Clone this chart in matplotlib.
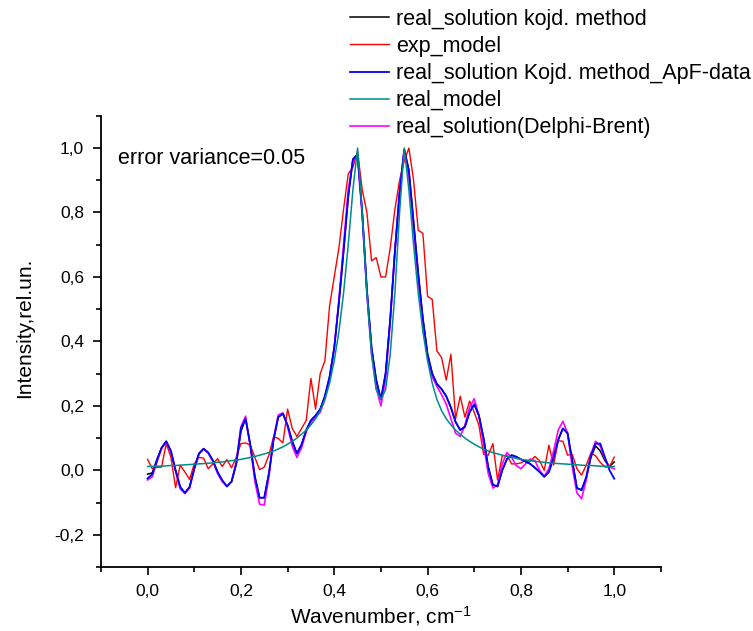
import matplotlib
matplotlib.use("Agg")
import matplotlib.pyplot as plt
from matplotlib.ticker import MultipleLocator, FuncFormatter

plt.rcParams['font.family'] = ['Liberation Sans', 'DejaVu Sans']
plt.rcParams['mathtext.default'] = 'regular'

# wavenumber grid, cm-1
wavenumber = [0.00, 0.01, 0.02, 0.03, 0.04, 0.05, 0.06, 0.07, 0.08, 0.09,
              0.10, 0.11, 0.12, 0.13, 0.14, 0.15, 0.16, 0.17, 0.18, 0.19,
              0.20, 0.21, 0.22, 0.23, 0.24, 0.25, 0.26, 0.27, 0.28, 0.29,
              0.30, 0.31, 0.32, 0.33, 0.34, 0.35, 0.36, 0.37, 0.38, 0.39,
              0.40, 0.41, 0.42, 0.43, 0.44, 0.45, 0.46, 0.47, 0.48, 0.49,
              0.50, 0.51, 0.52, 0.53, 0.54, 0.55, 0.56, 0.57, 0.58, 0.59,
              0.60, 0.61, 0.62, 0.63, 0.64, 0.65, 0.66, 0.67, 0.68, 0.69,
              0.70, 0.71, 0.72, 0.73, 0.74, 0.75, 0.76, 0.77, 0.78, 0.79,
              0.80, 0.81, 0.82, 0.83, 0.84, 0.85, 0.86, 0.87, 0.88, 0.89,
              0.90, 0.91, 0.92, 0.93, 0.94, 0.95, 0.96, 0.97, 0.98, 0.99, 1.00]

# real_solution kojd. method (black)
sol_kojd = [-0.012, -0.008, 0.033, 0.070, 0.090, 0.060, 0.000, -0.052, -0.070, -0.052,
            0.005, 0.052, 0.067, 0.055, 0.030, -0.005, -0.031, -0.050, -0.035, 0.020,
            0.120, 0.160, 0.080, -0.020, -0.085, -0.085, -0.010, 0.095, 0.165, 0.176,
            0.140, 0.090, 0.052, 0.080, 0.125, 0.155, 0.170, 0.190, 0.230, 0.290,
            0.380, 0.520, 0.680, 0.850, 0.965, 0.980, 0.800, 0.560, 0.380, 0.280,
            0.220, 0.300, 0.470, 0.680, 0.860, 0.995, 0.930, 0.770, 0.610, 0.470,
            0.360, 0.300, 0.268, 0.252, 0.230, 0.195, 0.150, 0.125, 0.135, 0.180,
            0.205, 0.170, 0.100, 0.010, -0.045, -0.050, 0.000, 0.035, 0.047, 0.042,
            0.034, 0.027, 0.020, 0.008, -0.005, -0.020, -0.005, 0.040, 0.095, 0.130,
            0.115, 0.030, -0.055, -0.060, -0.025, 0.040, 0.076, 0.060, 0.030, 0.012, 0.026]

# exp_model (red)
exp_model = [0.034, 0.005, 0.009, 0.010, 0.083, 0.041, -0.054, 0.016, -0.005, -0.028,
             0.020, 0.040, 0.038, 0.005, 0.020, 0.036, 0.012, 0.033, 0.008, 0.040,
             0.083, 0.085, 0.078, 0.040, 0.002, 0.010, 0.047, 0.104, 0.099, 0.085,
             0.190, 0.130, 0.105, 0.130, 0.155, 0.285, 0.190, 0.300, 0.340, 0.510,
             0.600, 0.690, 0.810, 0.920, 0.940, 0.990, 0.870, 0.800, 0.650, 0.660,
             0.600, 0.600, 0.690, 0.810, 0.900, 0.960, 1.000, 0.900, 0.745, 0.735,
             0.540, 0.530, 0.370, 0.350, 0.280, 0.360, 0.160, 0.230, 0.165, 0.215,
             0.180, 0.140, 0.050, 0.047, 0.083, -0.030, 0.045, 0.047, 0.020, 0.020,
             0.023, 0.031, 0.028, 0.043, 0.030, 0.000, 0.078, 0.016, 0.092, 0.090,
             0.047, 0.050, 0.005, -0.015, 0.016, 0.054, 0.045, 0.025, 0.010, 0.012, 0.041]

# real_solution Kojd. method_ApF-data (blue)
sol_apf = [-0.025, -0.012, 0.031, 0.070, 0.090, 0.060, 0.000, -0.052, -0.070, -0.052,
           0.005, 0.052, 0.067, 0.055, 0.030, -0.005, -0.031, -0.050, -0.035, 0.020,
           0.130, 0.160, 0.080, -0.020, -0.085, -0.085, -0.010, 0.095, 0.165, 0.176,
           0.140, 0.090, 0.052, 0.080, 0.125, 0.155, 0.170, 0.190, 0.230, 0.290,
           0.380, 0.520, 0.680, 0.850, 0.965, 0.980, 0.800, 0.560, 0.380, 0.280,
           0.220, 0.300, 0.470, 0.680, 0.860, 0.995, 0.930, 0.770, 0.610, 0.470,
           0.360, 0.300, 0.268, 0.252, 0.230, 0.195, 0.150, 0.125, 0.135, 0.180,
           0.205, 0.170, 0.100, 0.010, -0.045, -0.050, 0.000, 0.035, 0.047, 0.042,
           0.034, 0.027, 0.020, 0.008, -0.005, -0.020, -0.005, 0.040, 0.095, 0.130,
           0.115, 0.030, -0.055, -0.062, -0.020, 0.045, 0.083, 0.083, 0.041, 0.000, -0.026]

# real_model (dark cyan)
real_model = [0.012, 0.012, 0.013, 0.013, 0.014, 0.015, 0.015, 0.016, 0.017, 0.018,
              0.019, 0.020, 0.021, 0.022, 0.023, 0.025, 0.026, 0.028, 0.030, 0.032,
              0.034, 0.037, 0.040, 0.043, 0.047, 0.051, 0.055, 0.060, 0.066, 0.073,
              0.081, 0.090, 0.100, 0.112, 0.125, 0.141, 0.160, 0.185, 0.220, 0.270,
              0.340, 0.430, 0.550, 0.700, 0.870, 1.000, 0.800, 0.550, 0.360, 0.250,
              0.220, 0.250, 0.360, 0.550, 0.800, 1.000, 0.870, 0.700, 0.550, 0.430,
              0.340, 0.270, 0.220, 0.185, 0.160, 0.141, 0.125, 0.112, 0.100, 0.090,
              0.081, 0.073, 0.066, 0.060, 0.055, 0.051, 0.047, 0.043, 0.040, 0.037,
              0.034, 0.032, 0.030, 0.028, 0.026, 0.025, 0.023, 0.022, 0.021, 0.020,
              0.019, 0.018, 0.017, 0.016, 0.015, 0.015, 0.014, 0.013, 0.013, 0.012, 0.012]

# real_solution(Delphi-Brent) (magenta)
sol_brent = [-0.030, -0.020, 0.025, 0.068, 0.088, 0.060, -0.002, -0.058, -0.072, -0.055,
             0.003, 0.050, 0.066, 0.053, 0.028, -0.010, -0.035, -0.050, -0.035, 0.025,
             0.135, 0.168, 0.075, -0.035, -0.105, -0.108, -0.020, 0.100, 0.172, 0.178,
             0.135, 0.075, 0.040, 0.070, 0.120, 0.150, 0.165, 0.180, 0.220, 0.285,
             0.380, 0.530, 0.700, 0.870, 0.960, 0.970, 0.790, 0.545, 0.360, 0.255,
             0.200, 0.280, 0.460, 0.680, 0.870, 0.995, 0.910, 0.750, 0.590, 0.450,
             0.350, 0.290, 0.260, 0.235, 0.205, 0.160, 0.115, 0.105, 0.140, 0.195,
             0.222, 0.170, 0.080, -0.010, -0.055, -0.045, 0.020, 0.055, 0.040, 0.015,
             0.005, 0.020, 0.035, 0.030, 0.000, -0.018, 0.005, 0.060, 0.125, 0.152,
             0.115, 0.010, -0.070, -0.088, -0.030, 0.050, 0.090, 0.075, 0.035, 0.010, 0.005]

fig = plt.figure(figsize=(7.53, 6.31), dpi=100)
ax = fig.add_axes([0.134, 0.1014, 0.7437, 0.7151])

l1, = ax.plot(wavenumber, sol_kojd, color='black', lw=1.1, zorder=2, label='real_solution kojd. method')
l2, = ax.plot(wavenumber, exp_model, color='#ff0000', lw=1.0, zorder=3, label='exp_model')
l5, = ax.plot(wavenumber, sol_brent, color='#ff00ff', lw=1.2, zorder=4, label='real_solution(Delphi-Brent)')
l3, = ax.plot(wavenumber, sol_apf, color='#0000ff', lw=1.3, zorder=5, label='real_solution Kojd. method_ApF-data')
l4, = ax.plot(wavenumber, real_model, color='#008b8b', lw=1.1, zorder=6, label='real_model')

ax.set_xlim(-0.1, 1.1)
ax.set_ylim(-0.3, 1.1)
ax.set_xticks([0.0, 0.2, 0.4, 0.6, 0.8, 1.0])
ax.xaxis.set_minor_locator(MultipleLocator(0.1))
ax.yaxis.set_major_locator(MultipleLocator(0.2))
ax.yaxis.set_minor_locator(MultipleLocator(0.1))
comma = FuncFormatter(lambda v, p: ('%.1f' % v).replace('.', ','))
ax.xaxis.set_major_formatter(comma)
ax.yaxis.set_major_formatter(comma)
ax.set_xlim(-0.1, 1.1)

ax.spines['top'].set_visible(False)
ax.spines['right'].set_visible(False)
ax.spines['left'].set_linewidth(1.3)
ax.spines['bottom'].set_linewidth(1.3)
ax.tick_params(which='major', direction='out', length=6, width=1.2, labelsize=12.5, pad=6)
ax.tick_params(which='minor', direction='out', length=3.5, width=1.2)

ax.set_xlabel('Wavenumber, cm$^{-1}$', fontsize=15, labelpad=4)
ax.set_ylabel('Intensity,rel.un.', fontsize=15)
ax.yaxis.set_label_coords(-0.12, 0.53)

ax.text(0.03, 0.905, 'error variance=0.05', transform=ax.transAxes, fontsize=15.5, va='center')

fig.legend(handles=[l1, l2, l3, l4, l5], loc='upper left', bbox_to_anchor=(350 / 753, 1 - 9 / 631),
           frameon=False, fontsize=15.5, handlelength=1.8, handletextpad=0.33,
           labelspacing=0.28, borderpad=0, borderaxespad=0)

fig.savefig('out.png', dpi=100)
